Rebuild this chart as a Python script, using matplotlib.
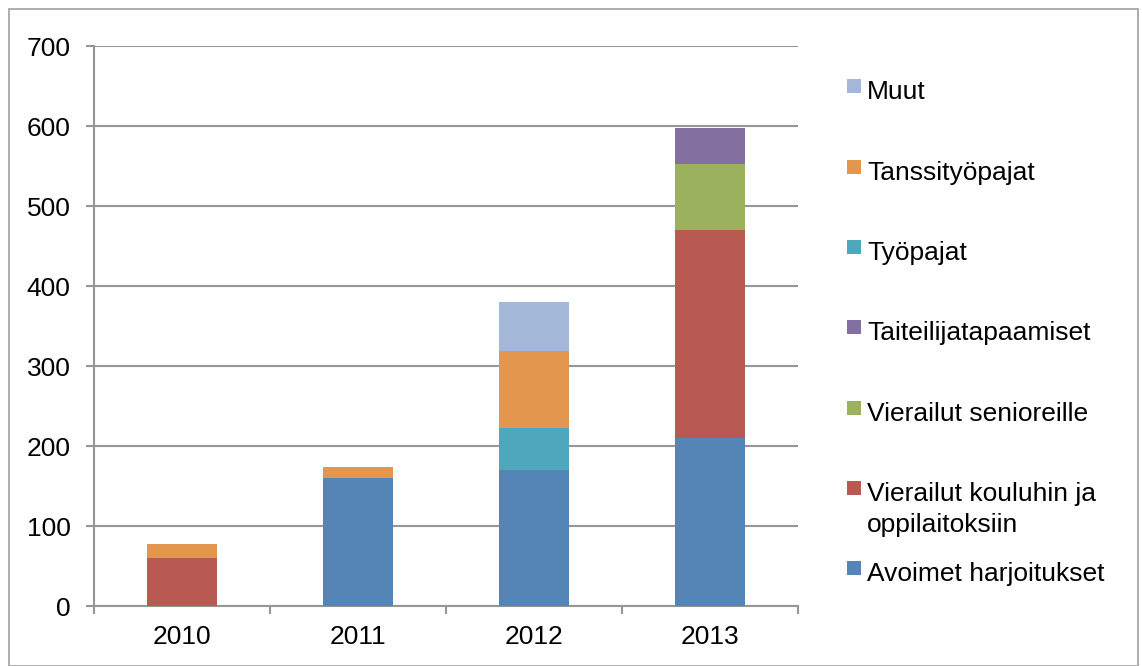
import matplotlib
matplotlib.use("Agg")
import matplotlib.pyplot as plt
from matplotlib.patches import Rectangle
import numpy as np

years = ["2010", "2011", "2012", "2013"]
# stacking order bottom -> top
series = [
    "Avoimet harjoitukset",
    "Vierailut kouluhin ja\noppilaitoksiin",
    "Vierailut senioreille",
    "Taiteilijatapaamiset",
    "Työpajat",
    "Tanssityöpajat",
    "Muut",
]
avoimet = [0, 160, 170, 210]
koulut = [60, 0, 0, 260]
seniorit = [0, 0, 0, 83]
taiteilijat = [0, 0, 0, 45]
tyopajat = [0, 0, 52, 0]
tanssi = [18, 14, 97, 0]
muut = [0, 0, 61, 0]
values = [avoimet, koulut, seniorit, taiteilijat, tyopajat, tanssi, muut]
colors = ["#5585B6", "#B85A52", "#9BB15E", "#8470A0", "#4DA7BD", "#E3964E", "#A3B7D9"]
yticks = [0, 100, 200, 300, 400, 500, 600, 700]

plt.rcParams['font.family'] = ['Liberation Sans', 'DejaVu Sans']
FS = 19

W, H = 1142, 666
fig = plt.figure(figsize=(W / 100, H / 100), dpi=100)
ax = fig.add_axes([94 / W, 1 - 606 / H, (798 - 94) / W, (606 - 46) / H])

x = np.arange(len(years))
bottom = np.zeros(len(years))
for vals, c in zip(values, colors):
    v = np.array(vals, dtype=float)
    ax.bar(x, v, bottom=bottom, width=0.4, color=c, edgecolor='none', zorder=3)
    bottom += v

ax.set_ylim(0, 700)
ax.set_xlim(-0.5, len(years) - 0.5)
ax.set_yticks(yticks)
ax.set_yticklabels([str(t) for t in yticks], fontsize=FS)
ax.yaxis.grid(True, color='#969696', linewidth=1.5, zorder=0)
ax.set_axisbelow(True)
ax.tick_params(axis='y', length=6, width=1.5, color='#969696', pad=11)

ax.set_xticks(x)
ax.set_xticklabels(years, fontsize=FS)
ax.set_xticks(np.arange(len(years) + 1) - 0.5, minor=True)
ax.tick_params(axis='x', which='major', length=0, pad=14)
ax.tick_params(axis='x', which='minor', length=6, width=1.5, color='#969696')

for s in ['top', 'right']:
    ax.spines[s].set_visible(False)
for s in ['left', 'bottom']:
    ax.spines[s].set_color('#969696')
    ax.spines[s].set_linewidth(1.5)

# legend (top to bottom: reverse stacking order)
leg_y = [86, 167, 247, 327, 408, 488, 568]
for name, c, yy in zip(series[::-1], colors[::-1], leg_y):
    fig.patches.append(Rectangle((847 / W, 1 - (yy + 7) / H), 14 / W, 14 / H,
                                 transform=fig.transFigure, facecolor=c, edgecolor='none'))
    t = fig.text(867 / W, 1 - (yy + 13) / H, name.split("\n")[0], fontsize=FS,
                 va='baseline', ha='left')
    if "\n" in name:
        fig.text(867 / W, 1 - (yy + 44) / H, name.split("\n")[1], fontsize=FS,
                 va='baseline', ha='left')

# outer border
fig.patches.append(Rectangle((9 / W, 0), (1138 - 9) / W, 1 - 9 / H,
                             transform=fig.transFigure, facecolor='none',
                             edgecolor='#A0A0A0', linewidth=1.2))

fig.savefig("out.png", dpi=100)
